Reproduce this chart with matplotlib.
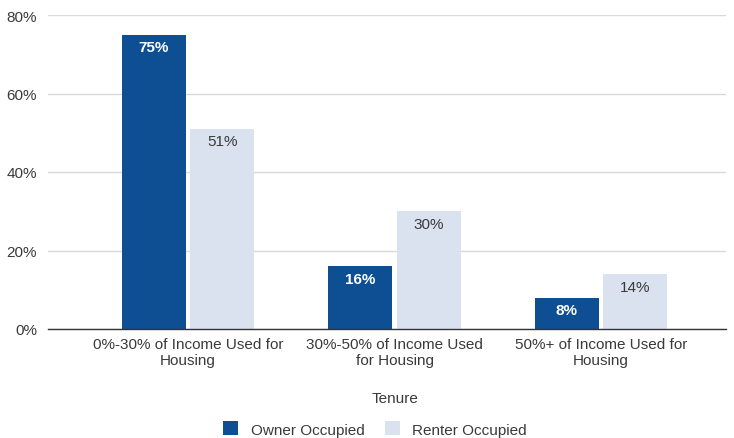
import matplotlib
matplotlib.use("Agg")
import matplotlib.pyplot as plt
import numpy as np

categories = ["0%-30% of Income Used for\nHousing",
              "30%-50% of Income Used\nfor Housing",
              "50%+ of Income Used for\nHousing"]
owner = [75, 16, 8]
renter = [51, 30, 14]
series_names = ["Owner Occupied", "Renter Occupied"]
yticks = [0, 20, 40, 60, 80]

owner_color = "#0E4F94"
renter_color = "#DAE2EF"
text_color = "#3A3A3A"

plt.rcParams["font.family"] = ["Liberation Sans", "DejaVu Sans"]

fig = plt.figure(figsize=(7.34, 4.39), dpi=100)
ax = fig.add_axes([48 / 734, 109 / 439, 678 / 734, 314 / 439])

x = np.arange(len(categories))
w = 0.31
off = 0.165
b1 = ax.bar(x - off, owner, width=w, color=owner_color, label=series_names[0], zorder=3)
b2 = ax.bar(x + off, renter, width=w, color=renter_color, label=series_names[1], zorder=3)

for rect, v in zip(b1, owner):
    ax.text(rect.get_x() + rect.get_width() / 2, v - 1.4, f"{v}%", ha="center", va="top",
            color="white", fontsize=11, fontweight="bold", zorder=4)
for rect, v in zip(b2, renter):
    ax.text(rect.get_x() + rect.get_width() / 2, v - 1.4, f"{v}%", ha="center", va="top",
            color=text_color, fontsize=11, zorder=4)

ax.set_xlim(-0.678, 2.605)
ax.set_ylim(0, 80)
ax.set_yticks(yticks)
ax.set_yticklabels([f"{t}%" for t in yticks], fontsize=11, color=text_color)
ax.set_xticks(x)
ax.set_xticklabels(categories, fontsize=11, color=text_color, linespacing=1.15)
ax.tick_params(axis="both", length=0)
ax.tick_params(axis="y", pad=8)
ax.tick_params(axis="x", pad=6)
ax.grid(axis="y", color="#D9D9D9", linewidth=1, zorder=0)
for s in ["top", "right", "left"]:
    ax.spines[s].set_visible(False)
ax.spines["bottom"].set_color("#333333")
ax.spines["bottom"].set_linewidth(1)
ax.spines["bottom"].set_zorder(5)

fig.text(395 / 734, 1 - 399 / 439, "Tenure", ha="center", va="center",
         fontsize=11, color=text_color)

fig.legend(handles=[b1, b2], labels=series_names, loc="center",
           bbox_to_anchor=(375 / 734, 1 - 430 / 439), ncol=2, frameon=False,
           fontsize=11, handlelength=1.0, handleheight=1.0, columnspacing=1.35,
           handletextpad=0.8, labelcolor=text_color)

fig.savefig("out.png", dpi=100, facecolor="white")
